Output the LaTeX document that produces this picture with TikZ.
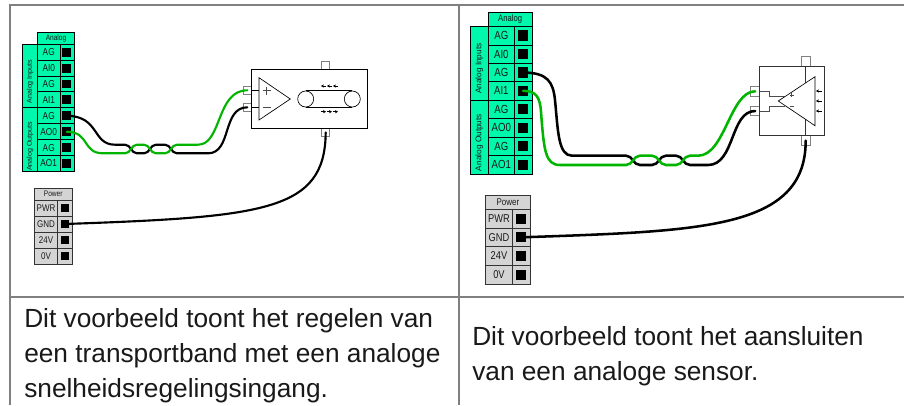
\documentclass[tikz,border=0pt]{standalone}
\usepackage{fontspec}
\setmainfont{Liberation Sans}
\newfontfamily\termfont[FakeStretch=0.82]{Liberation Sans}
\usetikzlibrary{arrows.meta}
\tikzset{
	frameline/.style={draw=black!50,line width=1.5pt},
	greencell/.style={draw=black,fill=termgreen,line width=0.7pt},
	greycell/.style={draw=black!80,fill=termgrey,line width=0.7pt},
	pin/.style={fill=black,inner sep=0pt,minimum size=#1},
	tab/.style={draw=black!50,fill=white,line width=0.6pt},
	device/.style={draw=black,fill=white,line width=0.6pt},
	wireblack/.style={draw=black,line cap=round},
	wiregreen/.style={draw=wirecol,line cap=round},
	caption/.style={anchor=north west,align=left,inner sep=0pt,text=black!90,font=\fontsize{19.7}{26.25}\selectfont},
	blabel/.style={inner sep=0pt,text=black!90,font=\termfont\fontsize{#1}{#1}\selectfont},
	sidelabel/.style={inner sep=0pt,rotate=90,text=black!90,font=\fontsize{#1}{#1}\selectfont},
	smallarrow/.style={-{Stealth[length=2.2pt,width=2.4pt]},line width=0.4pt}
}
\definecolor{termgreen}{HTML}{00F8AC}
\definecolor{termgrey}{HTML}{D4D4D4}
\definecolor{wirecol}{HTML}{00B400}
\begin{document}
\begin{tikzpicture}[x=0.75pt,y=-0.75pt]
	\useasboundingbox (0,0) rectangle (904,405);
	% table lines
	\draw [frameline] (904,5) -- (10,5) -- (10,405);
	\draw [frameline] (458.5,5) -- (458.5,405);
	\draw [frameline] (10,296.5) -- (904,296.5);
	% left panel, analog terminals
	\draw [greencell] (37.5,32.5) rectangle (74.5,44.3) node[midway,blabel=6](lHead){Analog};
	\draw [greencell] (22.5,44.3) rectangle (37.5,107.7);
	\draw [greencell] (22.5,107.7) rectangle (37.5,171);
	\node [sidelabel=5.3] (lInputs) at (30,81.5) {Analog Inputs};
	\node [sidelabel=5.3] (lOutputs) at (30,146.5) {Analog Outputs};
	\foreach \t/\b/\lab/\nm in {44.3/60.3/AG/a,60.3/76.3/AI0/b,76.3/91.7/AG/c,91.7/107.7/AI1/d,107.7/123.7/AG/e,123.7/139.7/AO0/f,139.7/155.7/AG/g,155.7/171/AO1/h}{
		\draw [greencell] (37.5,\t) rectangle (60,\b) node[midway,blabel=7.6](lLab\nm){\lab};
		\draw [greencell] (60,\t) rectangle (74.5,\b);
		\node [pin=6.5pt] (lPin\nm) at (66.8,{(\t+\b)/2}) {};
	}
	% left panel, power terminals
	\draw [greycell] (34.5,188) rectangle (72,200) node[midway,blabel=6](lPower){Power};
	\foreach \t/\lab/\nm in {200/PWR/a,216/GND/b,232/24V/c,248/0V/d}{
		\draw [greycell] (34.5,\t) rectangle (57.5,\t+16) node[midway,blabel=7.3](lPowLab\nm){\lab};
		\draw [greycell] (57.5,\t) rectangle (72,\t+16);
		\node [pin=6.5pt] (lPowPin\nm) at (65,\t+8) {};
	}
	% left panel, conveyor
	\node [tab,minimum width=6pt,minimum height=5.8pt,inner sep=0pt] (lTop) at (325.7,65.5) {};
	\node [tab,minimum width=6pt,minimum height=6pt,inner sep=0pt] (lBottom) at (325.7,132.5) {};
	\node [tab,minimum width=6pt,minimum height=6pt,inner sep=0pt] (lPlus) at (247.3,90.3) {};
	\node [tab,minimum width=6pt,minimum height=6pt,inner sep=0pt] (lMinus) at (247.3,107.3) {};
	\draw [device] (251.3,69.3) rectangle (367.7,128.3);
	\draw [line width=0.5pt] (251.3,90.5) -- (259,90.5) (251.3,107.5) -- (259,107.5);
	\draw [line width=0.5pt] (259,77.7) -- (290.3,99) -- (259,120) -- cycle;
	\draw [line width=0.6pt,black!70] (262.7,90.5) -- (270.7,90.5) (266.7,86.5) -- (266.7,94.5);
	\draw [line width=0.6pt,black!70] (262.7,107.5) -- (270.7,107.5);
	\draw [line width=0.5pt] (305.7,99) circle (8);
	\draw [line width=0.5pt] (352.3,99) circle (8);
	\draw [line width=0.5pt] (305.7,90.7) -- (352.3,90.7) (305.7,107.3) -- (352.3,107.3);
	\foreach \x in {321,327,333}{
		\draw [smallarrow] (\x+5,86) -- (\x,86);
		\draw [smallarrow] (\x,111.7) -- (\x+5,111.7);
	}
	% left panel, wires
	\draw [wireblack,line width=1.6pt] (lPine.center) .. controls (100,116.3) and (92,144.7) .. (115,144.7) -- (125,144.7)
		.. controls (131,144.7) and (131,153.3) .. (137,153.3) -- (144,153.3)
		.. controls (150,153.3) and (150,144.7) .. (156,144.7) -- (165,144.7)
		.. controls (171,144.7) and (171,153.3) .. (177,153.3) -- (208,153.3)
		.. controls (232,153.3) and (222,107.3) .. (lMinus.center);
	\draw [wiregreen,line width=1.6pt] (lPinf.center) .. controls (90,132) and (82,153.3) .. (103,153.3) -- (125,153.3)
		.. controls (131,153.3) and (131,144.7) .. (137,144.7) -- (144,144.7)
		.. controls (150,144.7) and (150,153.3) .. (156,153.3) -- (165,153.3)
		.. controls (171,153.3) and (171,144.7) .. (177,144.7) -- (198,144.7)
		.. controls (222,144.7) and (216,90.3) .. (lPlus.center);
	\draw [wireblack,line width=1.6pt] (lPowPinb.center) .. controls (265,217) and (325,211) .. (lBottom.center);
	% right panel, analog terminals
	\draw [greencell] (488.3,12.3) rectangle (532,26) node[midway,blabel=7](rHead){Analog};
	\draw [greencell] (470.3,26) rectangle (488.3,100);
	\draw [greencell] (470.3,100) rectangle (488.3,174);
	\node [sidelabel=6.2] (rInputs) at (479.3,68.7) {Analog Inputs};
	\node [sidelabel=6.2] (rOutputs) at (479.3,142.5) {Analog Outputs};
	\foreach \t/\b/\lab/\nm in {26/45/AG/a,45/63.3/AI0/b,63.3/81.7/AG/c,81.7/100/AI1/d,100/118.7/AG/e,118.7/137/AO0/f,137/155.7/AG/g,155.7/174/AO1/h}{
		\draw [greencell] (488.3,\t) rectangle (514.3,\b) node[midway,blabel=8.8](rLab\nm){\lab};
		\draw [greencell] (514.3,\t) rectangle (532,\b);
		\node [pin=7.6pt] (rPin\nm) at (523,{(\t+\b)/2}) {};
	}
	% right panel, power terminals
	\draw [greycell] (485.7,195.3) rectangle (530,209.3) node[midway,blabel=7.3](rPower){Power};
	\foreach \t/\b/\lab/\nm in {209.3/228/PWR/a,228/246.7/GND/b,246.7/265.3/24V/c,265.3/284/0V/d}{
		\draw [greycell] (485.7,\t) rectangle (512.3,\b) node[midway,blabel=8.5](rPowLab\nm){\lab};
		\draw [greycell] (512.3,\t) rectangle (530,\b);
		\node [pin=7.5pt] (rPowPin\nm) at (521,{(\t+\b)/2}) {};
	}
	% right panel, sensor
	\node [tab,minimum width=7pt,minimum height=7.2pt,inner sep=0pt] (rTop) at (805.7,61.5) {};
	\node [tab,minimum width=7pt,minimum height=7.5pt,inner sep=0pt] (rBottom) at (805.7,140.7) {};
	\node [tab,minimum width=6.8pt,minimum height=7pt,inner sep=0pt] (rPlus) at (755.2,91.3) {};
	\node [tab,minimum width=6.8pt,minimum height=7pt,inner sep=0pt] (rMinus) at (755.2,111) {};
	\draw [device,draw=black!80] (759.7,66.3) rectangle (824,135.7);
	\draw [line width=0.6pt,black!80] (805.3,66.3) -- (805.3,135.7);
	\draw [line width=0.6pt,black!70] (759.7,91.3) -- (769.3,91.3) -- (769.3,96) -- (785,96);
	\draw [line width=0.6pt,black!70] (759.7,111) -- (769.3,111) -- (769.3,106) -- (785,106);
	\draw [device,line width=0.5pt] (778.3,101) -- (815,76.7) -- (815,125.7) -- cycle;
	\draw [line width=0.4pt,black!70] (789.7,95) -- (793.7,95) (791.7,93) -- (791.7,97);
	\draw [line width=0.4pt,black!70] (789.7,106.7) -- (793.7,106.7);
	\foreach \y in {91,101,111}{
		\draw [smallarrow] (821.7,\y) -- (816,\y);
	}
	% right panel, wires
	\draw [wireblack,line width=1.9pt] (rPinc.center) .. controls (548,72.7) and (553,82) .. (555,100)
		.. controls (558,130) and (558,155.7) .. (572,155.7) -- (626,155.7)
		.. controls (633,155.7) and (633,165) .. (640,165) -- (652,165)
		.. controls (659,165) and (659,155.7) .. (666,155.7) -- (676,155.7)
		.. controls (683,155.7) and (683,165) .. (690,165) -- (708,165)
		.. controls (735,165) and (730,111) .. (rMinus.center);
	\draw [wiregreen,line width=1.9pt] (rPind.center) .. controls (536,90.7) and (540,97) .. (541,112)
		.. controls (544,150) and (545,165) .. (560,165) -- (626,165)
		.. controls (633,165) and (633,155.7) .. (640,155.7) -- (652,155.7)
		.. controls (659,155.7) and (659,165) .. (666,165) -- (676,165)
		.. controls (683,165) and (683,155.7) .. (690,155.7) -- (698,155.7)
		.. controls (725,155.7) and (730,91.3) .. (rPlus.center);
	\draw [wireblack,line width=1.9pt] (rPowPinb.center) .. controls (700,231) and (805.7,230) .. (rBottom.center);
	% captions
	\node [caption] (lText) at (24,308) {Dit voorbeeld toont het regelen van\\een transportband met een analoge\\snelheidsregelingsingang.};
	\node [caption] (rText) at (472,326) {Dit voorbeeld toont het aansluiten\\van een analoge sensor.};
\end{tikzpicture}
\end{document}
